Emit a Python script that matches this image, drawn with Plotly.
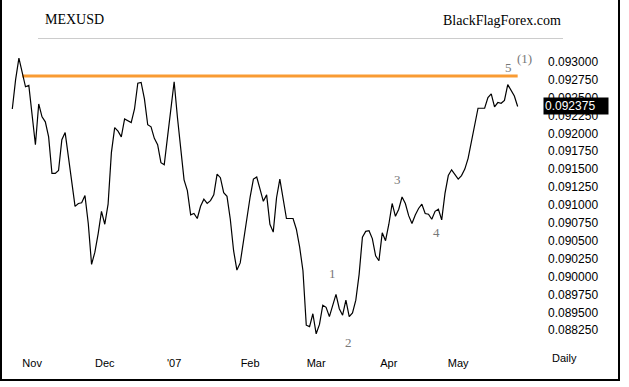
import plotly.graph_objects as go
import pandas as pd

# ---- data (daily closes, MEX/USD) ----
values = [
    0.09234, 0.09275, 0.09305, 0.09283, 0.09265, 0.09267, 0.09223, 0.09184, 0.09241, 0.09223,
    0.09216, 0.09195, 0.09144, 0.09144, 0.09148, 0.09191, 0.09201, 0.09167, 0.09131, 0.09098,
    0.09102, 0.09103, 0.09113, 0.09074, 0.09017, 0.09034, 0.09060, 0.09091, 0.09073, 0.09101,
    0.09173, 0.09208, 0.09203, 0.09195, 0.09220, 0.09218, 0.09215, 0.09234, 0.09270, 0.09271,
    0.09248, 0.09212, 0.09209, 0.09193, 0.09184, 0.09159, 0.09156, 0.09195, 0.09238, 0.09272,
    0.09222, 0.09177, 0.09135, 0.09120, 0.09086, 0.09088, 0.09081, 0.09098, 0.09108, 0.09102,
    0.09106, 0.09114, 0.09143, 0.09138, 0.09117, 0.09112, 0.09080, 0.09036, 0.09009, 0.09019,
    0.09051, 0.09077, 0.09111, 0.09136, 0.09139, 0.09122, 0.09105, 0.09114, 0.09073, 0.09062,
    0.09110, 0.09136, 0.09111, 0.09081, 0.09081, 0.09081, 0.09066, 0.09041, 0.09008, 0.08932,
    0.08930, 0.08948, 0.08920, 0.08933, 0.08960, 0.08957, 0.08944, 0.08959, 0.08975, 0.08955,
    0.08946, 0.08967, 0.08944, 0.08949, 0.08967, 0.09003, 0.09055, 0.09063, 0.09064, 0.09053,
    0.09029, 0.09022, 0.09061, 0.09050, 0.09073, 0.09102, 0.09084, 0.09094, 0.09111, 0.09102,
    0.09085, 0.09074, 0.09086, 0.09095, 0.09101, 0.09088, 0.09087, 0.09080, 0.09091, 0.09094,
    0.09079, 0.09116, 0.09141, 0.09149, 0.09143, 0.09136, 0.09141, 0.09150, 0.09165, 0.09189,
    0.09216, 0.09235, 0.09235, 0.09235, 0.09250, 0.09255, 0.09237, 0.09243, 0.09242, 0.09246,
    0.09268, 0.09259, 0.09252, 0.092375,
]
start_date = "2006-10-24"
dates = pd.bdate_range(start_date, periods=len(values))

resistance_level = 0.0928
resistance_from = "2006-10-27"

month_starts = ["2006-11-01", "2006-12-01", "2007-01-01", "2007-02-01",
                "2007-03-01", "2007-04-01", "2007-05-01"]
month_labels = ["Nov", "Dec", "'07", "Feb", "Mar", "Apr", "May"]

y_tickvals = [0.093, 0.09275, 0.0925, 0.09225, 0.092, 0.09175, 0.0915, 0.09125,
              0.091, 0.09075, 0.0905, 0.09025, 0.09, 0.08975, 0.0895, 0.08925]
y_ticktext = ["0.093000", "0.092750", "0.092500", "0.092250", "0.092000", "0.091750",
              "0.091500", "0.091250", "0.091000", "0.090750", "0.090500", "0.090250",
              "0.090000", "0.089750", "0.089500", "0.088250"]

wave_texts = ["1", "2", "3", "4", "5", "(1)"]

# ---- derived ----
n = len(values)
idx = list(range(n))
tick_idx = [int((dates >= pd.Timestamp(m)).argmax()) for m in month_starts]
res_start = int((dates >= pd.Timestamp(resistance_from)).argmax())

W, H = 629, 387
L, R, T, B = 5, 540, 40, 355  # plot area in pixels


def px(x):
    return (x - L) / (R - L)


def py(y):
    return (B - y) / (B - T)


fig = go.Figure()
fig.add_trace(go.Scatter(x=[res_start, n - 1], y=[resistance_level, resistance_level],
                         mode="lines", line=dict(color="#F99B33", width=3),
                         hoverinfo="skip", showlegend=False))
fig.add_trace(go.Scatter(x=idx, y=values, mode="lines",
                         line=dict(color="black", width=1.2), showlegend=False))

serif = "Liberation Serif, Times New Roman, serif"
sans = "Liberation Sans, Arial, sans-serif"

annotations = []
# wave labels (positions in pixel space of the picture)
wave_pos = [(332, 273), (348, 342), (397, 179), (436, 232), (508, 67), (524, 58)]
for t, (wx, wy) in zip(wave_texts, wave_pos):
    annotations.append(dict(x=px(wx), y=py(wy), xref="paper", yref="paper", text=t,
                            showarrow=False, xanchor="center", yanchor="middle",
                            font=dict(family=serif, size=13, color="#777777")))
annotations.append(dict(x=px(43), y=py(19), xref="paper", yref="paper", text="MEXUSD",
                        showarrow=False, xanchor="left", yanchor="middle",
                        font=dict(family=serif, size=14, color="black")))
annotations.append(dict(x=px(563), y=py(20), xref="paper", yref="paper",
                        text="BlackFlagForex.com", showarrow=False, xanchor="right",
                        yanchor="middle", font=dict(family=serif, size=14, color="black")))
annotations.append(dict(x=px(550), y=py(358), xref="paper", yref="paper", text="Daily",
                        showarrow=False, xanchor="left", yanchor="middle",
                        font=dict(family=sans, size=11, color="black")))
annotations.append(dict(x=px(543), y=values[-1], xref="paper", yref="y",
                        text="%.6f" % values[-1], showarrow=False, xanchor="left",
                        yanchor="middle", bgcolor="black", borderpad=1, width=62,
                        align="left",
                        font=dict(family=sans, size=12, color="white")))

shapes = [
    dict(type="line", xref="paper", yref="paper", x0=px(38), x1=px(563),
         y0=py(38.5), y1=py(38.5), line=dict(color="#cccccc", width=1)),
    dict(type="line", xref="paper", yref="paper", x0=px(1), x1=px(1),
         y0=py(-2), y1=py(381), line=dict(color="black", width=2)),
    dict(type="line", xref="paper", yref="paper", x0=px(619), x1=px(619),
         y0=py(-2), y1=py(381), line=dict(color="black", width=2)),
    dict(type="line", xref="paper", yref="paper", x0=px(0), x1=px(620),
         y0=py(380), y1=py(380), line=dict(color="black", width=2)),
]

x0 = (L - 12.3) / 3.303
x1 = (R - 12.3) / 3.303
y_top = 0.093 + (61.7 - T) * 0.00025 / 17.9
y_bot = 0.093 - (B - 61.7) * 0.00025 / 17.9

fig.update_layout(
    width=W, height=H, autosize=False,
    margin=dict(l=L, r=W - R, t=T, b=H - B),
    paper_bgcolor="white", plot_bgcolor="white",
    annotations=annotations, shapes=shapes,
    xaxis=dict(range=[x0, x1], showgrid=False, zeroline=False, showline=False,
               tickmode="array", tickvals=tick_idx, ticktext=month_labels, ticks="",
               tickfont=dict(family=sans, size=11, color="black")),
    yaxis=dict(range=[y_bot, y_top], side="right", showgrid=False, zeroline=False,
               showline=False, tickmode="array", tickvals=y_tickvals, ticktext=y_ticktext,
               ticks="", ticklabelstandoff=7,
               tickfont=dict(family=sans, size=12, color="black")),
)

fig.write_html("out.html", config={"displayModeBar": False},
               post_script="document.body.style.margin='0px';document.body.style.overflow='hidden';")
